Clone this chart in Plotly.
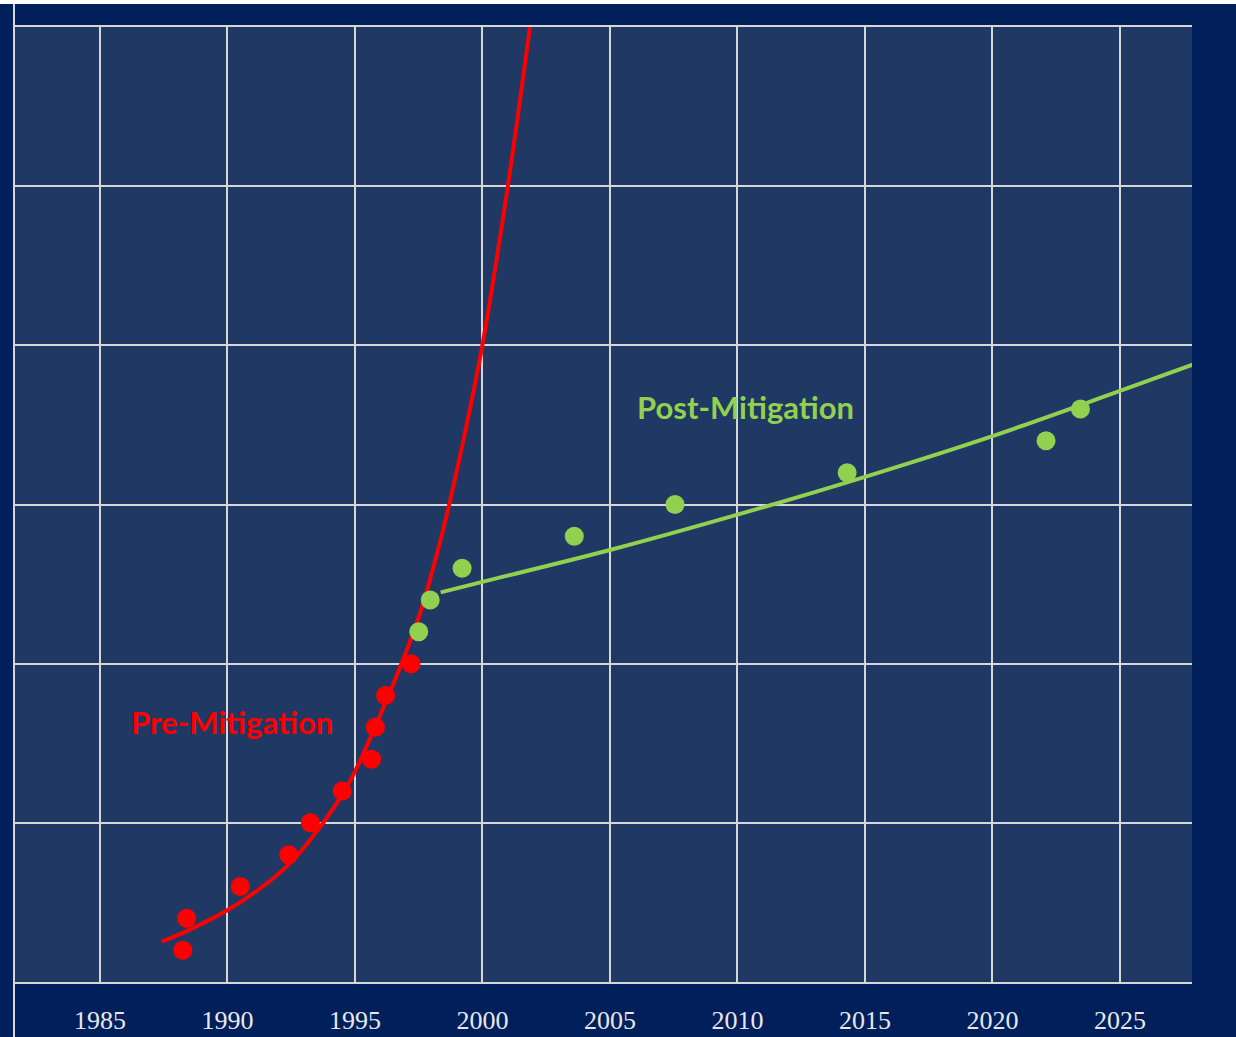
import plotly.graph_objects as go

# ---- data ----
pre_years = [1988.25, 1988.4, 1990.5, 1992.4, 1993.25, 1994.5, 1995.65, 1995.8, 1996.2, 1997.2]
pre_counts = [1, 2, 3, 4, 5, 6, 7, 8, 9, 10]

post_years = [1997.5, 1997.95, 1999.2, 2003.6, 2007.55, 2014.3, 2022.1, 2023.45]
post_counts = [11, 12, 13, 14, 15, 16, 17, 18]

pre_fit_years = [1987.42, 1988.4, 1990.01, 1991.27, 1992.38, 1993.24, 1994.28, 1994.93,
                 1995.85, 1996.83, 1997.55, 1998.07, 1998.69, 1999.51, 1999.99, 2000.99, 2001.86]
pre_fit_counts = [1.27, 1.60, 2.26, 2.93, 3.68, 4.46, 5.61, 6.50,
                  8.13, 10.01, 11.58, 13.01, 14.98, 18.01, 19.98, 24.98, 30.0]

post_fit_years = [1998.36, 2000.0, 2005.0, 2010.0, 2015.0, 2020.0, 2025.0, 2027.85]
post_fit_counts = [12.24, 12.57, 13.57, 14.68, 15.87, 17.15, 18.57, 19.39]

tick_years = [1985, 1990, 1995, 2000, 2005, 2010, 2015, 2020, 2025]

RED = "#ff0000"
GREEN = "#92d050"
NAVY = "#001f5b"
PLOT_BG = "#203864"
GRID = "#d6d6d6"

fig = go.Figure()
fig.add_trace(go.Scatter(x=pre_fit_years, y=pre_fit_counts, mode="lines",
                         line=dict(color=RED, width=4, shape="spline", smoothing=1.0),
                         hoverinfo="skip", showlegend=False))
fig.add_trace(go.Scatter(x=post_fit_years, y=post_fit_counts, mode="lines",
                         line=dict(color=GREEN, width=4, shape="spline", smoothing=1.0),
                         hoverinfo="skip", showlegend=False))
fig.add_trace(go.Scatter(x=pre_years, y=pre_counts, mode="markers",
                         marker=dict(color=RED, size=19, line=dict(width=0)),
                         showlegend=False, name="Pre-Mitigation"))
fig.add_trace(go.Scatter(x=post_years, y=post_counts, mode="markers",
                         marker=dict(color=GREEN, size=19, line=dict(width=0)),
                         showlegend=False, name="Post-Mitigation"))

W, H = 1236, 1037
L, R, T, B = 15, 44, 27, 55
ph = H - T - B
pw = W - L - R

def py(pix):
    return (H - B - pix) / ph

def px(pix):
    return (pix - L) / pw

fig.update_layout(
    width=W, height=H,
    margin=dict(l=L, r=R, t=T, b=B, pad=0, autoexpand=False),
    paper_bgcolor=NAVY,
    plot_bgcolor=PLOT_BG,
    showlegend=False,
    xaxis=dict(range=[1981.667, 2027.824], tickmode="array", tickvals=tick_years,
               ticktext=[str(t) for t in tick_years], automargin=False,
               showgrid=True, gridcolor=GRID, gridwidth=2,
               zeroline=False, showline=True, linecolor=GRID, linewidth=2, mirror=True,
               ticks="", ticklabelstandoff=14,
               tickfont=dict(family="Liberation Serif, Times New Roman, serif", size=26, color="#e8e8e8")),
    yaxis=dict(range=[0, 30], tickmode="linear", tick0=0, dtick=5, automargin=False,
               showgrid=True, gridcolor=GRID, gridwidth=2,
               zeroline=False, showline=False, showticklabels=False, ticks=""),
    annotations=[
        dict(x=1990.18, y=8.17, xref="x", yref="y", text="<b>Pre-Mitigation</b>",
             showarrow=False, xanchor="center", yanchor="middle",
             font=dict(family="Lato, Open Sans, sans-serif", size=31, color=RED)),
        dict(x=2010.33, y=18.06, xref="x", yref="y", text="<b>Post-Mitigation</b>",
             showarrow=False, xanchor="center", yanchor="middle",
             font=dict(family="Lato, Open Sans, sans-serif", size=31, color=GREEN)),
    ],
    shapes=[
        dict(type="rect", xref="paper", yref="paper", x0=px(0), x1=px(W), y0=py(4), y1=py(0),
             fillcolor="white", line=dict(width=0), layer="above"),
        dict(type="line", xref="paper", yref="paper", x0=px(14), x1=px(14), y0=py(H), y1=py(4),
             line=dict(color=GRID, width=2), layer="above"),
    ],
)

fig.write_html("out.html", config={"displayModeBar": False},
               post_script="document.body.style.margin='0';document.body.style.overflow='hidden';")
